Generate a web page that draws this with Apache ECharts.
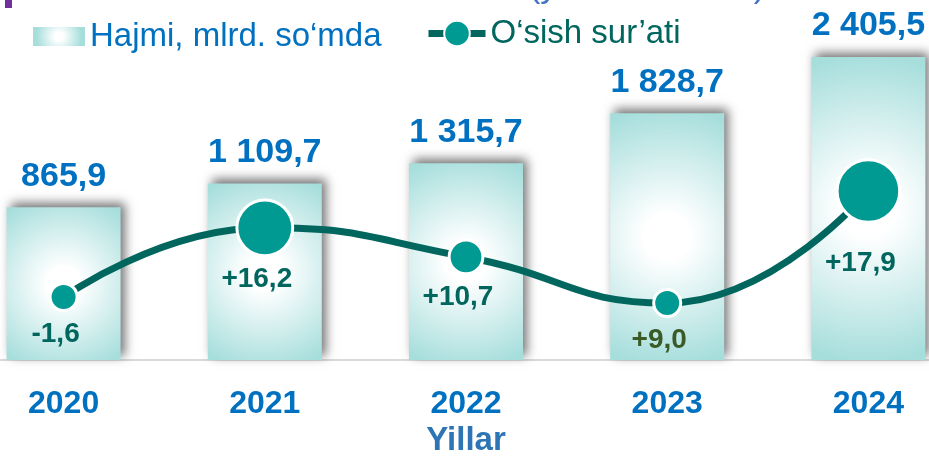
<!DOCTYPE html>
<html>
<head>
<meta charset="utf-8">
<script src="https://cdn.jsdelivr.net/npm/echarts@6/dist/echarts.min.js"></script>
<style>html,body{margin:0;padding:0;background:#fff}#chart{width:929px;height:456px}</style>
</head>
<body>
<div id="chart"></div>
<script>
var years = ['2020', '2021', '2022', '2023', '2024'];
var volume = [865.9, 1109.7, 1315.7, 1828.7, 2405.5];
var growth = [-1.6, 16.2, 10.7, 9.0, 17.9];
// where the growth markers sit in the source picture (0..100 of the plot height)
var growthLevel = [19.7, 41.3, 32.2, 17.8, 52.8];

var barName = 'Hajmi, mlrd. so\u2018mda';
var lineName = 'O\u2018sish sur\u2019ati';
var FONT = '"Liberation Sans", Arial, sans-serif';

function fmtVolume(v) {
    var parts = v.toFixed(1).split('.');
    parts[0] = parts[0].replace(/\B(?=(\d{3})+(?!\d))/g, ' ');
    return parts.join(',');
}
function fmtGrowth(v) {
    return (v > 0 ? '+' : '') + v.toFixed(1).replace('.', ',');
}

function barFill(r) {
    return {
        type: 'radial', x: 0.5, y: 0.5, r: r,
        colorStops: [
            {offset: 0, color: '#ffffff'},
            {offset: 0.18, color: '#ffffff'},
            {offset: 1, color: '#a6dedc'}
        ]
    };
}

// bars rise from the bottom of the plot (the source uses a cut value axis)
function renderBar(params, api) {
    var top = api.coord([api.value(0), api.value(1)]);
    var bottom = params.coordSys.y + params.coordSys.height;
    var w = 114;
    var h = bottom - top[1];
    // centre glow reaching towards the corners, like the source's path fill
    var r = 0.95 * 0.5 * Math.sqrt(1 + (h / w) * (h / w));
    return {
        type: 'rect',
        shape: {x: top[0] - w / 2, y: top[1], width: w, height: h},
        style: {
            fill: barFill(r),
            shadowBlur: 10,
            shadowColor: 'rgba(0,0,0,0.55)',
            shadowOffsetX: 4,
            shadowOffsetY: -4
        },
        textContent: {
            style: {
                text: fmtVolume(api.value(1)),
                fill: '#0070c0',
                font: 'bold 34px ' + FONT
            }
        },
        textConfig: {position: 'top', distance: 14}
    };
}

var lineData = growthLevel.map(function (lv, i) {
    var item = {value: lv};
    if (i === 3) item.label = {color: '#3a5a26'};
    if (i === 4) item.label = {distance: 25};
    return item;
});

var chart = echarts.init(document.getElementById('chart'));
chart.setOption({
    animation: false,
    backgroundColor: '#ffffff',
    textStyle: {fontFamily: FONT},
    graphic: [
        {type: 'rect', left: 5, top: 0, shape: {width: 7, height: 8}, style: {fill: '#7030a0'}},
        {type: 'text', x: 529, y: -12, style: {
            text: '(yillar kesimida)', fill: '#4472c4', font: '34px ' + FONT,
            verticalAlign: 'middle'
        }}
    ],
    legend: [
        {
            data: [{name: barName, icon: 'rect', itemStyle: {shadowBlur: 0, shadowOffsetX: 0, shadowOffsetY: 0}}],
            left: 28, top: 15, itemWidth: 52, itemHeight: 19, itemGap: 6,
            textStyle: {fontSize: 33, color: '#0070c0', fontFamily: FONT}
        },
        {
            data: [{name: lineName}],
            left: 420, top: 12, itemWidth: 57, itemHeight: 32, itemGap: 5,
            lineStyle: {width: 7},
            textStyle: {fontSize: 33, color: '#00665e', fontFamily: FONT}
        }
    ],
    grid: {left: -37, right: -40, top: 40, bottom: 96, containLabel: false, outerBoundsMode: 'none'},
    xAxis: {
        type: 'category',
        data: years,
        axisLine: {onZero: false, lineStyle: {color: '#d9d9d9', width: 2}},
        axisTick: {show: false},
        axisLabel: {margin: 28, fontSize: 32, fontWeight: 'bold', color: '#0070c0', fontFamily: FONT},
        splitLine: {show: false},
        name: 'Yillar',
        nameLocation: 'middle',
        nameGap: 64,
        nameTextStyle: {fontSize: 33, fontWeight: 'bold', color: '#2e75b6', fontFamily: FONT}
    },
    yAxis: [
        {type: 'value', min: -700, max: 2580, show: false, splitLine: {show: false}},
        {type: 'value', min: 0, max: 100, show: false, splitLine: {show: false}}
    ],
    series: [
        {
            name: barName,
            type: 'custom',
            renderItem: renderBar,
            data: volume.map(function (v, i) { return [i, v]; }),
            encode: {x: 0, y: 1},
            itemStyle: {color: barFill(1.2)},
            z: 2
        },
        {
            name: lineName,
            type: 'line',
            yAxisIndex: 1,
            data: lineData,
            smooth: 0.5,
            symbol: 'circle',
            showAllSymbol: true,
            symbolSize: function (val, p) {
                return Math.max(27, 27 + 4 * (growth[p.dataIndex] - 9));
            },
            lineStyle: {color: '#00665e', width: 7},
            itemStyle: {color: '#009a93', borderColor: '#ffffff', borderWidth: 3},
            label: {
                show: true,
                position: 'bottom',
                distance: 8,
                offset: [-8, 0],
                fontSize: 28,
                fontWeight: 'bold',
                color: '#00665e',
                fontFamily: FONT,
                formatter: function (p) { return fmtGrowth(growth[p.dataIndex]); }
            },
            z: 5
        }
    ]
});
</script>
</body>
</html>
